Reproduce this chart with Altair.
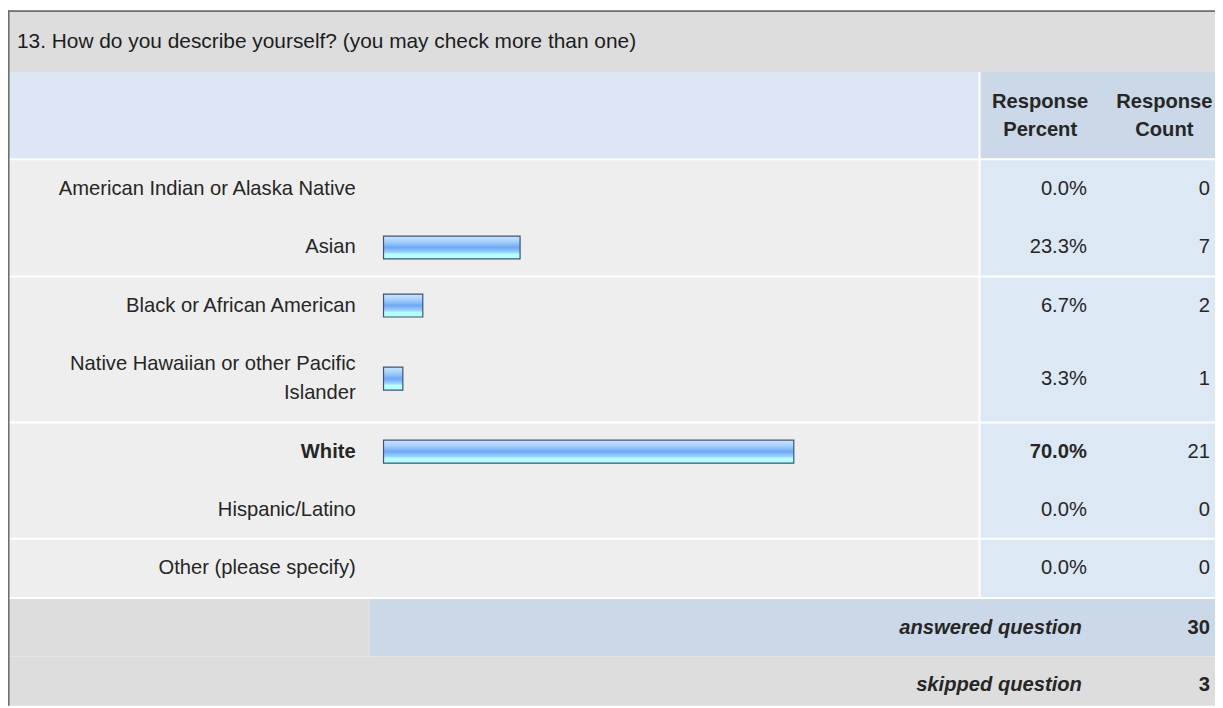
import altair as alt
import pandas as pd

# ---------------- data ----------------
title_text = "13. How do you describe yourself? (you may check more than one)"
categories = [
    "American Indian or Alaska Native",
    "Asian",
    "Black or African American",
    "Native Hawaiian or other Pacific\nIslander",
    "White",
    "Hispanic/Latino",
    "Other (please specify)",
]
percents = [0.0, 23.3, 6.7, 3.3, 70.0, 0.0, 0.0]
counts = [0, 7, 2, 1, 21, 0, 0]
header_percent = "Response\nPercent"
header_count = "Response\nCount"
summary_labels = ["answered question", "skipped question"]
summary_values = [30, 3]

# ---------------- layout / style ----------------
W, H = 1215, 700
FONT = "Liberation Sans"
TXT = "#262626"
TITLE_BOT = 62
HEAD_BOT = 149
ROW_H = 58.5
LINE_H = 30
SPLIT_X = 978
SUM_H = 58
LABEL_X = 350
PCT_X = 1086
CNT_X = 1210
BAR_X0, BAR_X100 = 378, 968
BAR_H = 23
FS = 20.3

# row geometry like an html table: extra height for extra label lines
rows = []
y = HEAD_BOT + 2
for i, (c, p, n) in enumerate(zip(categories, percents, counts)):
    nlines = c.count("\n") + 1
    h = ROW_H + (nlines - 1) * LINE_H
    yc = y + h / 2
    rows.append(dict(label=c, pct=p, count=n, top=y, bot=y + h, yc=yc,
                     ytxt=yc - (nlines - 1) * LINE_H / 2,
                     pct_text=f"{p:.1f}%", bold=bool(n == max(counts)), idx=i))
    y += h
rows_end = y
df = pd.DataFrame(rows)

ysc = alt.Scale(domain=[0, H], range=[0, H])
one = alt.Data(values=[{}])


def rect(x0, x1, y0, y1, color):
    return alt.Chart(one).mark_rect(color=color).encode(
        x=alt.value(x0), x2=alt.value(x1), y=alt.value(y0), y2=alt.value(y1))


def label(text, x, yc, size=FS, weight="normal", align="left", style="normal", lh=30,
          color=TXT):
    n = text.count("\n") + 1
    return alt.Chart(one).mark_text(
        text=text, lineBreak="\n", lineHeight=lh, font=FONT, fontSize=size,
        fontWeight=weight, fontStyle=style, align=align, baseline="middle", color=color,
    ).encode(x=alt.value(x), y=alt.value(yc - (n - 1) * lh / 2))


layers = []
# title band
layers.append(rect(0, W, 0, TITLE_BOT, "#dddddd"))
# header band
layers.append(rect(0, SPLIT_X - 1, TITLE_BOT, HEAD_BOT, "#dce6f4"))
layers.append(rect(SPLIT_X + 1, W, TITLE_BOT, HEAD_BOT, "#cbd8e7"))
# data rows backgrounds
layers.append(rect(0, SPLIT_X - 1, HEAD_BOT + 2, rows_end, "#eeeeee"))
layers.append(rect(SPLIT_X + 1, W, HEAD_BOT + 2, rows_end, "#dde8f5"))
# summary rows
sum1_top = rows_end + 2
sum1_bot = sum1_top + SUM_H
layers.append(rect(0, 364, sum1_top, sum1_bot, "#dddddd"))
layers.append(rect(364, W, sum1_top, sum1_bot, "#cbd8e7"))
layers.append(rect(0, W, sum1_bot, H, "#dddddd"))

# white separators every second row
seps = df[df["idx"] % 2 == 1]
sep = alt.Chart(seps).transform_calculate(s0="datum.bot - 1", s1="datum.bot + 1").mark_rect(
    color="#ffffff").encode(
    y=alt.Y("s0:Q", scale=ysc, axis=None), y2="s1:Q", x=alt.value(0), x2=alt.value(W))
layers.append(sep)
layers.append(rect(0, W, rows_end, rows_end + 2, "#ffffff"))

# outer border (left and top)
layers.append(rect(0, 1.6, 0, H, "#6f6f6f"))
layers.append(rect(0, W, 0, 1.6, "#6f6f6f"))

# bars
grad = alt.Gradient(
    gradient="linear", x1=0, x2=0, y1=0, y2=1,
    stops=[
        alt.GradientStop(offset=0.0, color="#c9e6ff"),
        alt.GradientStop(offset=0.25, color="#a4d0fd"),
        alt.GradientStop(offset=0.5, color="#6fa8f4"),
        alt.GradientStop(offset=0.7, color="#9ccefc"),
        alt.GradientStop(offset=0.8, color="#b4ffff"),
        alt.GradientStop(offset=1.0, color="#b4ffff"),
    ],
)
bars = alt.Chart(df).transform_filter("datum.pct > 0").transform_calculate(
    b0=f"datum.yc - {BAR_H / 2}", b1=f"datum.yc + {BAR_H / 2}"
).mark_rect(fill=grad, stroke="#3f5373", strokeWidth=1.2).encode(
    x=alt.X("pct:Q", scale=alt.Scale(domain=[0, 100], range=[BAR_X0, BAR_X100]), axis=None),
    x2=alt.datum(0),
    y=alt.Y("b0:Q", scale=ysc, axis=None),
    y2="b1:Q",
)
layers.append(bars)

# row texts (the most chosen answer is bold)
for is_bold in (False, True):
    w = "bold" if is_bold else "normal"
    sub = df[df["bold"] == is_bold]
    layers.append(alt.Chart(sub).mark_text(
        font=FONT, fontSize=FS, fontWeight=w, align="right", baseline="middle",
        lineBreak="\n", lineHeight=LINE_H, color=TXT).encode(
        x=alt.value(LABEL_X), y=alt.Y("ytxt:Q", scale=ysc, axis=None), text="label:N"))
    layers.append(alt.Chart(sub).mark_text(
        font=FONT, fontSize=FS, fontWeight=w, align="right", baseline="middle",
        color=TXT).encode(
        x=alt.value(PCT_X), y=alt.Y("yc:Q", scale=ysc, axis=None), text="pct_text:N"))
cnt = alt.Chart(df).mark_text(font=FONT, fontSize=FS, align="right", baseline="middle",
                              color=TXT).encode(
    x=alt.value(CNT_X), y=alt.Y("yc:Q", scale=ysc, axis=None), text="count:N")
layers.append(cnt)

# title and headers
layers.append(label(title_text, 9, 32, size=21, color="#1c1c1c"))
layers.append(label(header_percent, 1039, 106.5, weight="bold", align="center", lh=29))
layers.append(label(header_count, 1164, 106.5, weight="bold", align="center", lh=29))

# summary rows
for i, (t, v) in enumerate(zip(summary_labels, summary_values)):
    yc = sum1_top + SUM_H / 2 + i * SUM_H
    layers.append(label(t, 1081, yc, weight="bold", style="italic", align="right"))
    layers.append(label(str(v), CNT_X, yc, weight="bold", align="right"))

chart = alt.layer(*layers).properties(
    width=W, height=H, padding=0, autosize=alt.AutoSizeParams(type="none"),
    background="#ffffff",
).configure_view(strokeWidth=0)

chart.save("out.html", embed_options={"renderer": "svg", "actions": False})
